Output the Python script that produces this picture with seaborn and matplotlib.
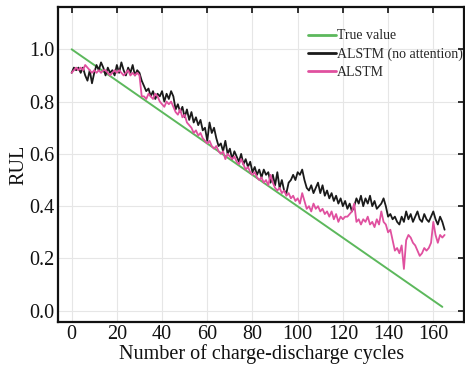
import numpy as np
import pandas as pd
import matplotlib
matplotlib.use("Agg")
import matplotlib.pyplot as plt
import seaborn as sns

# ---- data ----
true_cycles = [0, 164]
true_values = [1.0, 0.015]

alstm_noatt = [
    0.91, 0.93, 0.92, 0.93, 0.91, 0.93, 0.90, 0.88, 0.92, 0.87,
    0.91, 0.94, 0.92, 0.95, 0.93, 0.90, 0.93, 0.91, 0.92, 0.90,
    0.94, 0.91, 0.95, 0.92, 0.90, 0.93, 0.91, 0.94, 0.90, 0.92,
    0.91, 0.88, 0.86, 0.84, 0.85, 0.82, 0.84, 0.81, 0.83, 0.82,
    0.84, 0.80, 0.83, 0.81, 0.84, 0.82, 0.77, 0.79, 0.76, 0.78,
    0.74, 0.77, 0.73, 0.76, 0.72, 0.74, 0.71, 0.73, 0.69, 0.70,
    0.65, 0.72, 0.68, 0.70, 0.66, 0.63, 0.64, 0.61, 0.65, 0.60,
    0.62, 0.58, 0.61, 0.59, 0.57, 0.60, 0.56, 0.58, 0.55, 0.57,
    0.53, 0.55, 0.52, 0.54, 0.51, 0.54, 0.52, 0.53, 0.49, 0.52,
    0.48, 0.53, 0.47, 0.50, 0.46, 0.45, 0.49, 0.50, 0.52, 0.50,
    0.53, 0.52, 0.54, 0.50, 0.47, 0.46, 0.48, 0.45, 0.47, 0.49,
    0.45, 0.48, 0.44, 0.46, 0.43, 0.45, 0.42, 0.44, 0.41, 0.43,
    0.40, 0.42, 0.39, 0.41, 0.38, 0.40, 0.43, 0.41, 0.44, 0.40,
    0.43, 0.41, 0.44, 0.40, 0.42, 0.39, 0.40, 0.41, 0.43, 0.40,
    0.36, 0.37, 0.35, 0.36, 0.34, 0.33, 0.36, 0.34, 0.38, 0.35,
    0.37, 0.34, 0.36, 0.38, 0.35, 0.34, 0.37, 0.35, 0.34, 0.36,
    0.38, 0.35, 0.33, 0.36, 0.34, 0.31,
]

alstm = [
    0.91, 0.92, 0.93, 0.92, 0.93, 0.92, 0.94, 0.93, 0.92, 0.91,
    0.92, 0.91, 0.92, 0.91, 0.92, 0.92, 0.91, 0.90, 0.91, 0.92,
    0.91, 0.92, 0.91, 0.90, 0.91, 0.92, 0.90, 0.91, 0.90, 0.91,
    0.90, 0.82, 0.82, 0.81, 0.83, 0.82, 0.81, 0.83, 0.82, 0.80,
    0.79, 0.78, 0.80, 0.79, 0.80, 0.78, 0.76, 0.75, 0.77, 0.74,
    0.75, 0.72, 0.71, 0.70, 0.68, 0.69, 0.67, 0.68, 0.66, 0.65,
    0.64, 0.65, 0.63, 0.62, 0.63, 0.61, 0.60, 0.61, 0.58, 0.60,
    0.59, 0.58, 0.59, 0.57, 0.56, 0.58, 0.56, 0.54, 0.55, 0.53,
    0.52, 0.53, 0.51, 0.50, 0.51, 0.49, 0.50, 0.48, 0.52, 0.49,
    0.47, 0.46, 0.47, 0.45, 0.46, 0.44, 0.45, 0.43, 0.44, 0.42,
    0.43, 0.41, 0.45, 0.42, 0.39, 0.40, 0.38, 0.41, 0.39, 0.40,
    0.38, 0.39, 0.37, 0.38, 0.36, 0.38, 0.35, 0.37, 0.34, 0.36,
    0.35, 0.36, 0.36, 0.37, 0.38, 0.41, 0.34, 0.35, 0.33, 0.35,
    0.34, 0.36, 0.33, 0.34, 0.32, 0.35, 0.33, 0.38, 0.34, 0.33,
    0.30, 0.31, 0.27, 0.23, 0.24, 0.22, 0.25, 0.16, 0.27, 0.29,
    0.28, 0.26, 0.25, 0.23, 0.21, 0.22, 0.24, 0.23, 0.24, 0.26,
    0.34, 0.29, 0.26, 0.29, 0.28, 0.29,
]

x_ticks = [0, 20, 40, 60, 80, 100, 120, 140, 160]
y_ticks = [0.0, 0.2, 0.4, 0.6, 0.8, 1.0]
series_names = ["True value", "ALSTM (no attention)", "ALSTM"]
series_colors = ["#5cb85c", "#1a1a1a", "#e0509f"]

# ---- style ----
sns.set_theme(style="whitegrid")
plt.rcParams['font.family'] = ['Liberation Serif', 'DejaVu Serif']

fig = plt.figure(figsize=(4.65, 3.65), dpi=100)
ax = fig.add_axes([0.1254, 0.117, 0.8735, 0.8647])
ax.set_facecolor("white")

df_true = pd.DataFrame({"cycle": true_cycles, "rul": true_values})
df_noatt = pd.DataFrame({"cycle": np.arange(len(alstm_noatt)), "rul": alstm_noatt})
df_alstm = pd.DataFrame({"cycle": np.arange(len(alstm)), "rul": alstm})

sns.lineplot(data=df_true, x="cycle", y="rul", ax=ax, color=series_colors[0],
             linewidth=1.4, label=series_names[0])
sns.lineplot(data=df_noatt, x="cycle", y="rul", ax=ax, color=series_colors[1],
             linewidth=1.3, label=series_names[1])
sns.lineplot(data=df_alstm, x="cycle", y="rul", ax=ax, color=series_colors[2],
             linewidth=1.3, label=series_names[2])

ax.set_xlim(-5.9, 173.8)
ax.set_ylim(-0.044, 1.163)
ax.set_xticks(x_ticks)
ax.set_yticks(y_ticks)
ax.set_xticklabels([str(t) for t in x_ticks])
ax.set_yticklabels([f"{t:.1f}" for t in y_ticks])

ax.grid(True, color="#e6e6e6", linewidth=0.8)
for s in ax.spines.values():
    s.set_visible(True)
    s.set_color("#111111")
    s.set_linewidth(1.6)

ax.tick_params(axis="both", which="major", direction="in", length=4, width=1.2,
               color="#111111", top=True, right=True, labelsize=14.5,
               labelcolor="#111111")
ax.tick_params(axis="x", pad=2)
ax.tick_params(axis="y", pad=3)

ax.set_xlabel("Number of charge-discharge cycles", fontsize=14.5, color="#111111",
              labelpad=0)
ax.set_ylabel("RUL", fontsize=14.5, color="#111111", labelpad=0.5)

leg = ax.legend(loc="upper left", bbox_to_anchor=(0.615, 0.928), frameon=False,
                fontsize=10, handlelength=2.0, handletextpad=0.1,
                borderaxespad=0, borderpad=0, labelspacing=0.35)
for line in leg.get_lines():
    line.set_linewidth(2.0)

fig.savefig("out.png", dpi=100, facecolor="white")
